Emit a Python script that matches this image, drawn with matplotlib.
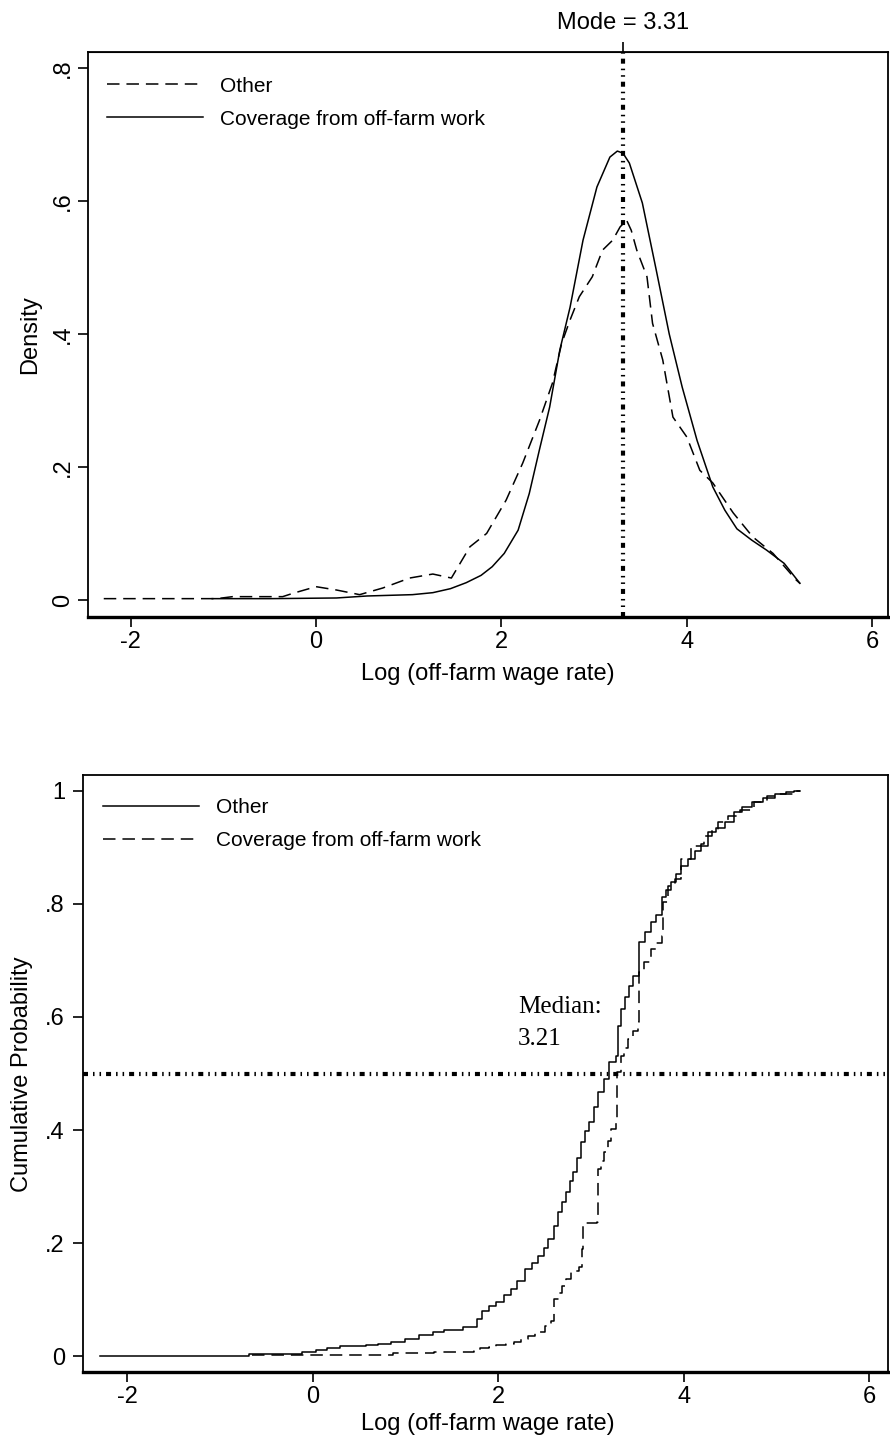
import matplotlib
matplotlib.use("Agg")
import matplotlib.pyplot as plt

plt.rcParams['font.family'] = ['Liberation Sans', 'DejaVu Sans']
plt.rcParams['lines.scale_dashes'] = False

# kernel density, top panel
oth_x = [-2.29, -1.07, -0.9, -0.36, -0.25, 0.0, 0.22, 0.47, 0.72, 1.01, 1.26, 1.46,
         1.66, 1.84, 2.05, 2.23, 2.41, 2.55, 2.65, 2.74, 2.84, 2.98, 3.09, 3.2, 3.28,
         3.35, 3.40, 3.46, 3.57, 3.63, 3.74, 3.85, 4.0, 4.14, 4.28, 4.5, 4.71, 4.93,
         5.18, 5.22]
oth_y = [0.002, 0.002, 0.005, 0.005, 0.01, 0.02, 0.015, 0.008, 0.018, 0.033, 0.039, 0.033,
         0.08, 0.10, 0.15, 0.206, 0.27, 0.326, 0.386, 0.421, 0.456, 0.486, 0.526, 0.541, 0.561,
         0.571, 0.556, 0.526, 0.486, 0.416, 0.361, 0.275, 0.245, 0.195, 0.176, 0.131, 0.095, 0.07,
         0.03, 0.025]
cov_x = [-1.12, -0.5, 0.22, 0.55, 1.04, 1.26, 1.45, 1.62, 1.78, 1.9, 2.03, 2.18, 2.30,
         2.41, 2.52, 2.63, 2.74, 2.88, 3.03, 3.17, 3.25, 3.31, 3.38, 3.52, 3.67, 3.81,
         3.95, 4.11, 4.28, 4.41, 4.54, 4.7, 4.86, 5.05, 5.22]
cov_y = [0.002, 0.002, 0.003, 0.006, 0.008, 0.011, 0.017, 0.026, 0.037, 0.05, 0.07, 0.105, 0.16,
         0.226, 0.29, 0.376, 0.44, 0.541, 0.621, 0.666, 0.675, 0.672, 0.657, 0.597, 0.496, 0.40,
         0.32, 0.24, 0.17, 0.135, 0.107, 0.09, 0.075, 0.055, 0.025]
mode_val = 3.31

# empirical cdf, bottom panel
oth_cdf_x = [-2.29, -0.69, -0.11, 0.04, 0.15, 0.29, 0.57, 0.70, 0.84, 1.0, 1.15, 1.3, 1.42,
             1.62, 1.77, 1.82, 1.9, 1.98, 2.06, 2.14, 2.2, 2.29, 2.36, 2.43, 2.49, 2.54, 2.6,
             2.64, 2.69, 2.73, 2.77, 2.81, 2.85, 2.89, 2.93, 2.98, 3.03, 3.08, 3.14, 3.19, 3.27,
             3.29, 3.32, 3.37, 3.41, 3.45, 3.52, 3.58, 3.65, 3.7, 3.76, 3.81, 3.86, 3.92, 3.97,
             4.05, 4.12, 4.19, 4.26, 4.35, 4.44, 4.54, 4.63, 4.73, 4.85, 4.98, 5.1, 5.19, 5.25]
oth_cdf_y = [0.0, 0.004, 0.007, 0.011, 0.015, 0.018, 0.02, 0.022, 0.025, 0.03, 0.037, 0.042, 0.046,
             0.051, 0.065, 0.08, 0.088, 0.095, 0.108, 0.119, 0.133, 0.154, 0.165, 0.177, 0.192, 0.207, 0.23,
             0.255, 0.272, 0.29, 0.31, 0.326, 0.35, 0.379, 0.398, 0.414, 0.44, 0.467, 0.49, 0.52, 0.531,
             0.584, 0.614, 0.635, 0.655, 0.672, 0.733, 0.75, 0.768, 0.78, 0.812, 0.825, 0.839, 0.853, 0.867,
             0.88, 0.893, 0.903, 0.927, 0.935, 0.945, 0.963, 0.972, 0.98, 0.988, 0.995, 0.998, 1.0, 1.0]
cov_cdf_x = [-0.65, 0.87, 0.94, 1.31, 1.74, 1.8, 1.9, 1.98, 2.08, 2.17, 2.25, 2.32, 2.4, 2.5,
             2.57, 2.6, 2.65, 2.69, 2.73, 2.78, 2.87, 2.9, 2.91, 3.06, 3.08, 3.11, 3.14, 3.18,
             3.22, 3.27, 3.28, 3.32, 3.36, 3.4, 3.45, 3.51, 3.52, 3.57, 3.65, 3.7, 3.76, 3.77,
             3.83, 3.9, 3.97, 4.08, 4.19, 4.22, 4.3, 4.37, 4.48, 4.6, 4.76, 4.9, 5.02, 5.19, 5.25]
cov_cdf_y = [0.002, 0.005, 0.005, 0.007, 0.009, 0.014, 0.017, 0.02, 0.022, 0.025, 0.03, 0.035, 0.042, 0.053,
             0.062, 0.101, 0.112, 0.124, 0.137, 0.15, 0.158, 0.19, 0.235, 0.237, 0.331, 0.345, 0.361, 0.38,
             0.402, 0.414, 0.503, 0.531, 0.545, 0.561, 0.575, 0.591, 0.68, 0.697, 0.72, 0.73, 0.743, 0.803,
             0.832, 0.844, 0.88, 0.903, 0.906, 0.92, 0.93, 0.945, 0.956, 0.966, 0.98, 0.99, 0.995, 1.0, 1.0]
median_val = 0.5
median_txt = "Median:\n3.21"

FS = 17
LFS = 15
dash = (0, (9, 5))
refdash = (0, (3.6, 3.6, 1.1, 3.6, 1.1, 3.6))

fig = plt.figure(figsize=(8.9, 14.4), dpi=100)
ax1 = fig.add_axes([88/890, 1-617/1440, 800/890, 565/1440])
ax2 = fig.add_axes([83/890, 1-1372/1440, 805/890, 597/1440])

def style(ax):
    for s in ['top', 'left', 'right']:
        ax.spines[s].set_linewidth(1.3)
    ax.spines['bottom'].set_linewidth(2.4)
    ax.tick_params(axis='x', length=7, width=1.2, labelsize=FS, pad=3)
    ax.tick_params(axis='y', length=7, width=1.2, labelsize=FS)
    ax.set_xticks([-2, 0, 2, 4, 6])
    ax.set_xticklabels(['-2', '0', '2', '4', '6'])

# top panel
ax1.plot(oth_x, oth_y, color='black', lw=1.1, linestyle=dash, label='Other')
ax1.plot(cov_x, cov_y, color='black', lw=1.1, label='Coverage from off-farm work')
ax1.axvline(mode_val, color='black', lw=3, linestyle=refdash, dash_capstyle='butt')
ax1.set_xlim(-2.46, 6.17)
ax1.set_ylim(-0.0256, 0.824)
style(ax1)
ax1.set_yticks([0, 0.2, 0.4, 0.6, 0.8])
ax1.set_yticklabels(['0', '.2', '.4', '.6', '.8'], rotation=90, va='center')
ax1.tick_params(axis='y', pad=3)
top = ax1.secondary_xaxis('top')
top.set_xticks([mode_val])
top.set_xticklabels(['Mode = %.2f' % mode_val])
top.tick_params(length=7, width=1.2, labelsize=FS, pad=6)
ax1.legend(loc='upper left', bbox_to_anchor=(0.024, 0.9565), frameon=False, fontsize=LFS,
           handlelength=4.6, handletextpad=0.82, labelspacing=0.68, borderpad=0, borderaxespad=0)
fig.text(488/890, 1-674/1440, 'Log (off-farm wage rate)', ha='center', va='center', fontsize=FS)
fig.text(30/890, 1-335/1440, 'Density', ha='center', va='center', rotation=90, fontsize=FS)

# bottom panel
ax2.step(oth_cdf_x, oth_cdf_y, where='post', color='black', lw=1.1, label='Other')
ax2.step(cov_cdf_x, cov_cdf_y, where='post', color='black', lw=1.1, linestyle=dash,
         label='Coverage from off-farm work')
ax2.axhline(median_val, color='black', lw=3, linestyle=refdash, dash_capstyle='butt')
ax2.text(2.21, 0.59, median_txt, family='Liberation Serif', fontsize=18, ha='left', va='center',
         linespacing=1.6)
ax2.set_xlim(-2.475, 6.2)
ax2.set_ylim(-0.028, 1.028)
style(ax2)
ax2.set_yticks([0, 0.2, 0.4, 0.6, 0.8, 1.0])
ax2.set_yticklabels(['0', '.2', '.4', '.6', '.8', '1'])
ax2.tick_params(axis='y', pad=6)
ax2.legend(loc='upper left', bbox_to_anchor=(0.025, 0.961), frameon=False, fontsize=LFS,
           handlelength=4.6, handletextpad=0.82, labelspacing=0.68, borderpad=0, borderaxespad=0)
fig.text(488/890, 1-1424/1440, 'Log (off-farm wage rate)', ha='center', va='center', fontsize=FS)
fig.text(22/890, 1-1074/1440, 'Cumulative Probability', ha='center', va='center', rotation=90,
         fontsize=FS)

fig.savefig('out.png', dpi=100, facecolor='white')
